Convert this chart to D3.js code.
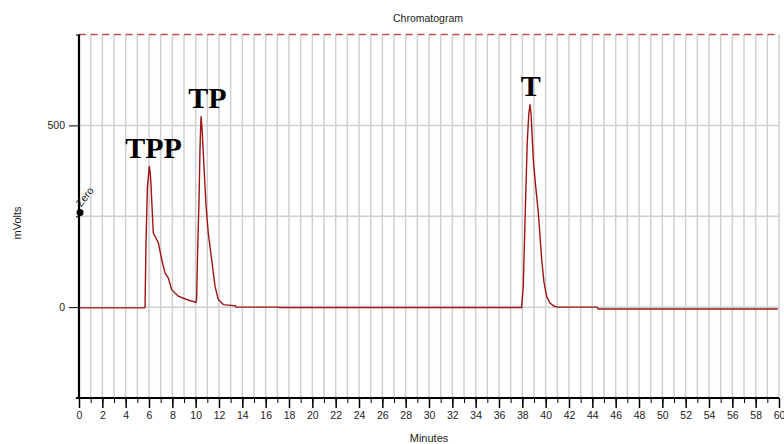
<!DOCTYPE html>
<html lang="en">
  <head>
    <meta charset="UTF-8" />
    <title>Chromatogram</title>
    <script src="https://d3js.org/d3.v7.min.js"></script>
    <style>
      html,
      body {
        margin: 0;
        padding: 0;
        background: #fff;
        font-family: "Liberation Sans", Arial, sans-serif;
      }
      svg {
        display: block;
      }
      .grid line {
        stroke: #cfcfcf;
        stroke-width: 1.5;
      }
      .axis path,
      .axis line {
        stroke: #000;
      }
      .axis text {
        font-family: "Liberation Sans", Arial, sans-serif;
        font-size: 10.5px;
        fill: #222;
      }
      .trace {
        fill: none;
        stroke: #9e1414;
        stroke-width: 1.4;
      }
      .peak-label {
        font-family: "Liberation Serif", "Times New Roman", serif;
        font-weight: bold;
        font-size: 30px;
        fill: #000;
      }
    </style>
  </head>
  <body>
    <svg id="chart" width="784" height="444"></svg>

    <script>
      // detector trace, minutes vs mVolts
      const minutes = [
        0, 5.6, 5.66, 5.74, 5.86, 6.03, 6.1, 6.17, 6.23, 6.37, 6.8, 7.09,
        7.37, 7.66, 7.94, 8.51, 9.23, 10.03, 10.08, 10.17, 10.29, 10.37,
        10.46, 10.57, 10.71, 10.89, 11.08, 11.37, 11.66, 11.94, 12.37, 13.23,
        13.4, 13.45, 17.0, 17.2, 37.94, 38.08, 38.28, 38.42, 38.55, 38.66,
        38.75, 38.94, 39.15, 39.37, 39.66, 39.85, 40.08, 40.37, 40.7, 41.0,
        44.4, 44.5, 59.9,
      ];
      const mVolts = [
        -2, -2, 0, 172, 328, 388, 370, 340, 296, 204, 177, 131, 94, 80, 48,
        30, 21, 13, 21, 158, 296, 434, 525, 480, 388, 278, 204, 131, 57, 21,
        7, 4, 4, 0, 0, -1, -1, 57, 296, 452, 530, 558, 530, 406, 330, 260,
        131, 70, 30, 11, 3, 0, 0, -5, -5,
      ];

      // peak names and where they sit (minute, mV of the peak top)
      const peakNames = ["TPP", "TP", "T"];
      const peakMinutes = [6.39, 11.01, 38.72];
      const peakTops = [388, 525, 558];

      // axis ticks
      const xTickLabels = [
        0, 2, 4, 6, 8, 10, 12, 14, 16, 18, 20, 22, 24, 26, 28, 30, 32, 34, 36,
        38, 40, 42, 44, 46, 48, 50, 52, 54, 56, 58, 60,
      ];
      const yTickLabels = [0, 500];
      const yMinorTicks = [-250, 250, 750];
      const yGridValues = [0, 250, 500];

      const svg = d3.select("#chart");

      // plot area
      const x = d3.scaleLinear().domain([0, 60]).range([79, 779]);
      const y = d3.scaleLinear().domain([-250, 750]).range([398, 34.5]);

      // vertical grid, one per minute
      svg
        .append("g")
        .attr("class", "grid")
        .selectAll("line")
        .data(d3.range(1, 61))
        .join("line")
        .attr("x1", (d) => x(d))
        .attr("x2", (d) => x(d))
        .attr("y1", y(750))
        .attr("y2", y(-250));

      // horizontal grid
      svg
        .append("g")
        .attr("class", "grid")
        .selectAll("line")
        .data(yGridValues)
        .join("line")
        .attr("x1", x(0))
        .attr("x2", x(60))
        .attr("y1", (d) => y(d))
        .attr("y2", (d) => y(d));

      // dashed red line along the top
      svg
        .append("line")
        .attr("x1", x(0))
        .attr("x2", x(60))
        .attr("y1", y(750))
        .attr("y2", y(750))
        .attr("stroke", "#c0504d")
        .attr("stroke-width", 1.6)
        .attr("stroke-dasharray", "7,4.67");

      // the trace
      const points = minutes.map((m, i) => [m, mVolts[i]]);
      const line = d3
        .line()
        .x((d) => x(d[0]))
        .y((d) => y(d[1]));
      svg.append("path").attr("class", "trace").attr("d", line(points));

      // x axis: labelled ticks every 2 min, small ones every minute
      svg
        .append("g")
        .attr("class", "axis")
        .attr("transform", `translate(0,${y(-250)})`)
        .call(
          d3.axisBottom(x).tickValues(d3.range(0, 61)).tickSize(5).tickFormat("")
        )
        .call((g) => g.select(".domain").remove());

      const xAxis = svg
        .append("g")
        .attr("class", "axis")
        .attr("transform", `translate(0,${y(-250)})`)
        .call(
          d3
            .axisBottom(x)
            .tickValues(xTickLabels)
            .tickSize(10)
            .tickSizeOuter(0)
            .tickPadding(4)
        );
      xAxis.select(".domain").remove();
      xAxis.selectAll(".tick line").attr("stroke-width", 1.5);

      svg
        .append("line")
        .attr("x1", x(0) - 3)
        .attr("x2", x(60))
        .attr("y1", y(-250))
        .attr("y2", y(-250))
        .attr("stroke", "#000")
        .attr("stroke-width", 2.2);

      // y axis
      svg
        .append("g")
        .attr("class", "axis")
        .attr("transform", `translate(${x(0)},0)`)
        .call(d3.axisLeft(y).tickValues(yMinorTicks).tickSize(3).tickFormat(""))
        .call((g) => g.select(".domain").remove());

      svg
        .append("g")
        .attr("class", "axis")
        .attr("transform", `translate(${x(0)},0)`)
        .call(d3.axisLeft(y).tickValues(yTickLabels).tickSize(10).tickPadding(4))
        .call((g) => g.select(".domain").remove());

      svg
        .append("line")
        .attr("x1", x(0))
        .attr("x2", x(0))
        .attr("y1", y(750))
        .attr("y2", y(-250))
        .attr("stroke", "#000")
        .attr("stroke-width", 2.2);

      // "Zero" event marker
      svg
        .append("circle")
        .attr("cx", x(0) + 1)
        .attr("cy", y(260))
        .attr("r", 3.5)
        .attr("fill", "#000");
      svg
        .append("text")
        .attr("transform", `translate(${x(0) + 2},${y(260) - 5}) rotate(-52)`)
        .attr("font-size", 10.5)
        .attr("fill", "#222")
        .text("Zero");

      // peak labels
      svg
        .selectAll(".peak-label")
        .data(peakNames)
        .join("text")
        .attr("class", "peak-label")
        .attr("text-anchor", "middle")
        .attr("x", (d, i) => x(peakMinutes[i]))
        .attr("y", (d, i) => y(peakTops[i]) - 8)
        .text((d) => d);

      // titles
      svg
        .append("text")
        .attr("x", 428)
        .attr("y", 22)
        .attr("text-anchor", "middle")
        .attr("font-size", 10.5)
        .attr("fill", "#222")
        .text("Chromatogram");

      svg
        .append("text")
        .attr("x", 429)
        .attr("y", 442)
        .attr("text-anchor", "middle")
        .attr("font-size", 11)
        .attr("fill", "#222")
        .text("Minutes");

      svg
        .append("text")
        .attr("transform", "translate(21,223) rotate(-90)")
        .attr("text-anchor", "middle")
        .attr("font-size", 11)
        .attr("fill", "#222")
        .text("mVolts");
    </script>
  </body>
</html>
